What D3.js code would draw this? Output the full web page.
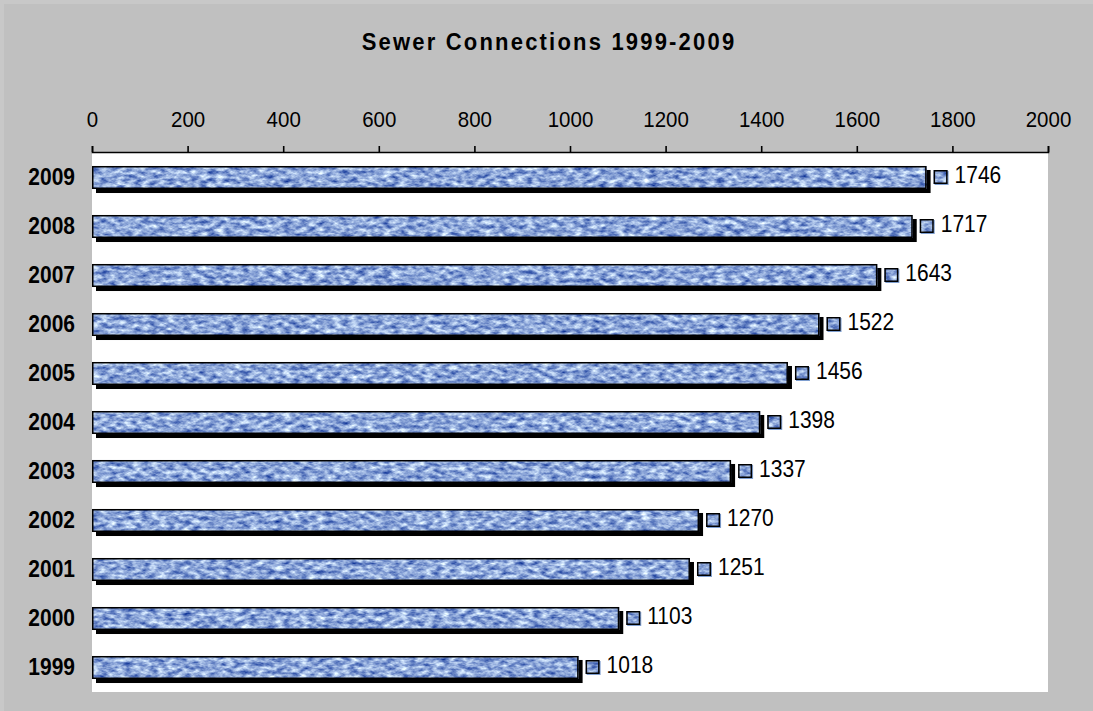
<!DOCTYPE html>
<html>
<head>
<meta charset="utf-8">
<script src="https://cdn.jsdelivr.net/npm/d3@7/dist/d3.min.js"></script>
<style>
  html, body { margin: 0; padding: 0; background: #c0c0c0; }
  svg { display: block; }
  text { font-family: Arial, "Liberation Sans", sans-serif; fill: #000; }
</style>
</head>
<body>
<svg id="chart" width="1093" height="711"></svg>
<script>
// Sewer connections per year
const years = ["1999", "2000", "2001", "2002", "2003", "2004", "2005", "2006", "2007", "2008", "2009"];
const connections = [1018, 1103, 1251, 1270, 1337, 1398, 1456, 1522, 1643, 1717, 1746];
const xTicks = [0, 200, 400, 600, 800, 1000, 1200, 1400, 1600, 1800, 2000];
const chartTitle = "Sewer Connections 1999-2009";

const W = 1093, H = 711;
const plot = { left: 92, right: 1048, top: 153, bottom: 692 };
const stretch = 1.1; // text is drawn slightly tall

const svg = d3.select("#chart");

// textured blue fill for bars and legend keys
const defs = svg.append("defs");
const f = defs.append("filter").attr("id", "tissue")
  .attr("filterUnits", "userSpaceOnUse")
  .attr("color-interpolation-filters", "sRGB")
  .attr("x", 0).attr("y", 0).attr("width", W).attr("height", H);
f.append("feTurbulence").attr("type", "fractalNoise")
  .attr("baseFrequency", "0.12 0.24").attr("numOctaves", 3).attr("seed", 7).attr("result", "n");
f.append("feColorMatrix").attr("in", "n").attr("type", "matrix")
  .attr("values", "1.15 0 0 0 -0.02  1.05 0 0 0 0.13  0.6 0 0 0 0.55  0 0 0 0 1")
  .attr("result", "c");
f.append("feGaussianBlur").attr("in", "c").attr("stdDeviation", 0.6).attr("result", "b");
f.append("feComposite").attr("in", "b").attr("in2", "SourceGraphic").attr("operator", "in");

// background frame
svg.append("rect").attr("width", W).attr("height", H).attr("fill", "#c0c0c0");
svg.append("path").attr("d", `M0,2H${W}M2,0V${H}`).attr("stroke", "#c8c8c8").attr("stroke-width", 4);

// plot area
svg.append("rect")
  .attr("x", plot.left).attr("y", plot.top)
  .attr("width", plot.right - plot.left).attr("height", plot.bottom - plot.top)
  .attr("fill", "#ffffff");

const x = d3.scaleLinear().domain([0, 2000]).range([plot.left, plot.right]);
const y = d3.scaleBand()
  .domain(years.slice().reverse())
  .range([plot.top, plot.bottom])
  .paddingInner(0.53).paddingOuter(0.265);

// title
svg.append("text")
  .attr("transform", `translate(549,50) scale(1,${stretch})`)
  .attr("text-anchor", "middle")
  .attr("font-size", 22).attr("font-weight", "bold")
  .attr("letter-spacing", "2.2px")
  .text(chartTitle);

// value axis along the top
const axisG = svg.append("g")
  .attr("transform", `translate(0,${plot.top - 1})`)
  .call(d3.axisTop(x).tickValues(xTicks).tickFormat(d3.format("d"))
    .tickSizeInner(6).tickSizeOuter(6).tickPadding(0));
axisG.select(".domain").attr("stroke", "#000").attr("stroke-width", 1.6);
axisG.selectAll(".tick line").attr("stroke", "#000").attr("stroke-width", 1.6);
axisG.selectAll(".tick text")
  .attr("y", null).attr("dy", null)
  .attr("transform", `translate(0,-25) scale(1,${stretch})`)
  .attr("font-size", 20.5)
  .attr("font-family", "Arial, Liberation Sans, sans-serif")
  .attr("fill", "#000");

const data = years.map((yr, i) => ({ year: yr, value: connections[i] }));

// bars: shadow, textured fill, outline
const bars = svg.append("g").selectAll("g").data(data).join("g");
bars.append("rect")
  .attr("x", plot.left + 4).attr("y", d => y(d.year) + 4)
  .attr("width", d => x(d.value) - plot.left).attr("height", y.bandwidth())
  .attr("fill", "#000");
bars.append("rect")
  .attr("x", plot.left).attr("y", d => y(d.year))
  .attr("width", d => x(d.value) - plot.left).attr("height", y.bandwidth())
  .attr("fill", "#000").attr("filter", "url(#tissue)");
bars.append("rect")
  .attr("x", plot.left + 0.75).attr("y", d => y(d.year) + 0.75)
  .attr("width", d => x(d.value) - plot.left - 1.5).attr("height", y.bandwidth() - 1.5)
  .attr("fill", "none").attr("stroke", "#000").attr("stroke-width", 1.5);

// legend keys beside each value
const key = 14;
bars.append("rect")
  .attr("x", d => x(d.value) + 8).attr("y", d => y(d.year) + y.bandwidth() / 2 - key / 2 + 0.5)
  .attr("width", key).attr("height", key)
  .attr("fill", "#7f9fd0");
bars.append("rect")
  .attr("x", d => x(d.value) + 7).attr("y", d => y(d.year) + y.bandwidth() / 2 - key / 2 - 0.5)
  .attr("width", key).attr("height", key)
  .attr("fill", "#000").attr("filter", "url(#tissue)");
bars.append("rect")
  .attr("x", d => x(d.value) + 7.75).attr("y", d => y(d.year) + y.bandwidth() / 2 - key / 2 + 0.25)
  .attr("width", key - 1.5).attr("height", key - 1.5)
  .attr("fill", "none").attr("stroke", "#000").attr("stroke-width", 1.5);

// value labels
bars.append("text")
  .attr("transform", d => `translate(${x(d.value) + 28},${y(d.year) + y.bandwidth() / 2 + 5}) scale(1,${stretch})`)
  .attr("font-size", 21)
  .text(d => d.value);

// category labels
svg.append("g").selectAll("text").data(years).join("text")
  .attr("transform", d => `translate(75,${y(d) + y.bandwidth() / 2 + 7}) scale(1,${stretch})`)
  .attr("text-anchor", "end")
  .attr("font-size", 21).attr("font-weight", "bold")
  .text(d => d);
</script>
</body>
</html>
